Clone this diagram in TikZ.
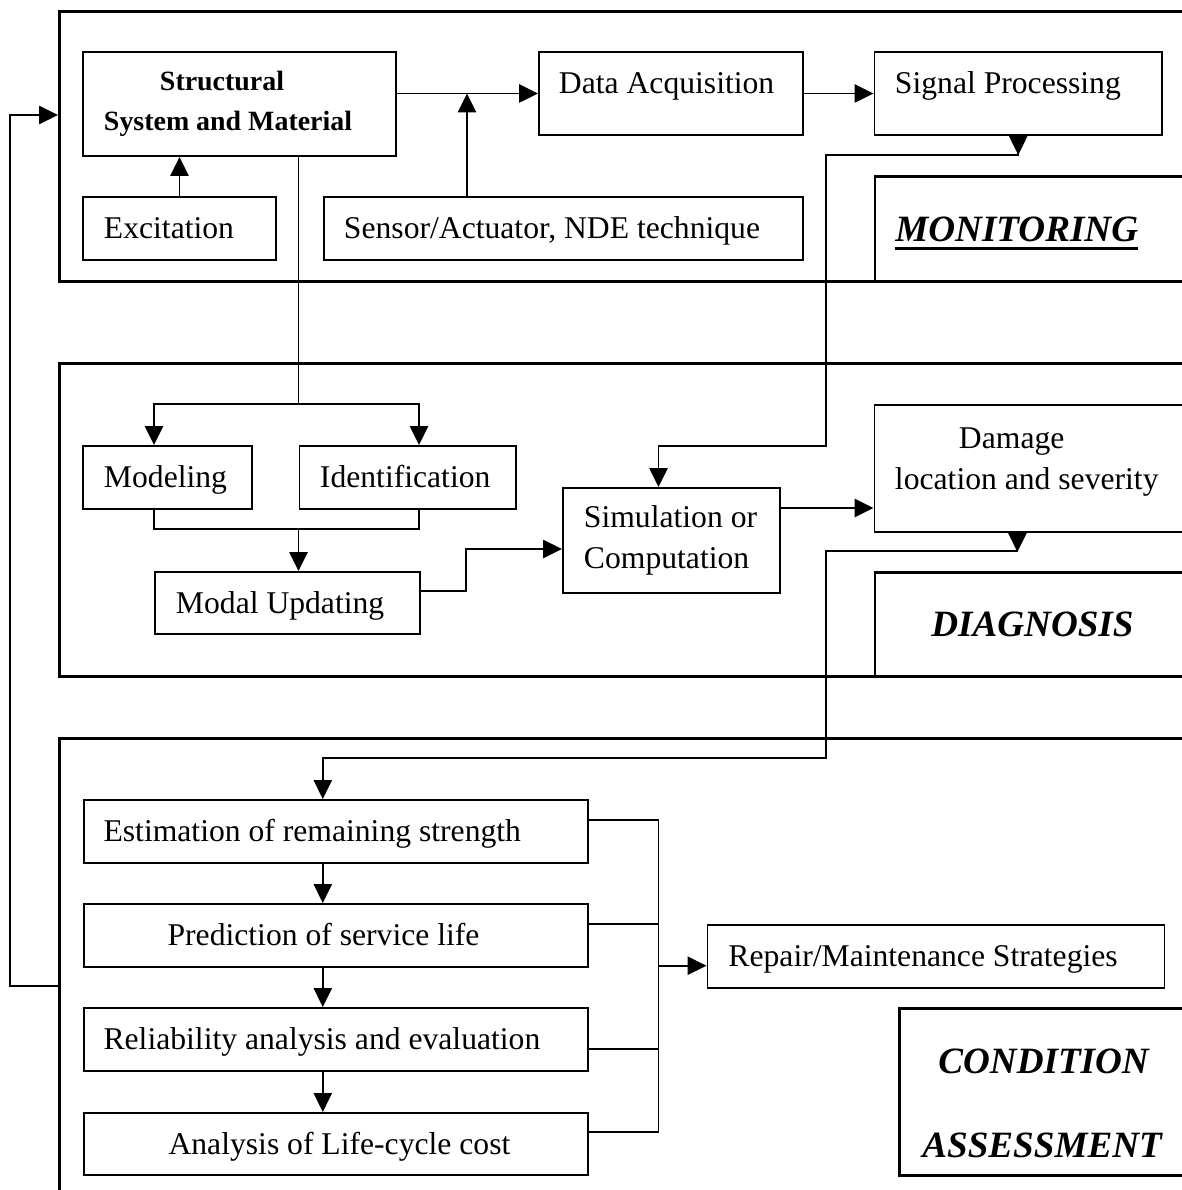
\documentclass[tikz,border=0pt]{standalone}
\usepackage{fontspec}
\setmainfont{Liberation Serif}
\usetikzlibrary{arrows.meta}
\newlength\pxl
\setlength\pxl{0.025cm}
\newcommand\myul[1]{\setbox0\hbox{#1}\rlap{\rule[-5.8pt]{\wd0}{2pt}}\box0}
\begin{document}
\begin{tikzpicture}[x=0.025cm,y=-0.025cm,
  geom/.code n args={5}{%
    \pgfmathsetlengthmacro\gw{(#3-#1)*\pxl}%
    \pgfmathsetlengthmacro\gh{(#4-#2)*\pxl}%
    \pgfmathsetlengthmacro\gp{#5*\pxl}%
    \pgfmathsetlengthmacro\gt{(#3-#1-2*#5)*\pxl}%
    \edef\tmpgeom{\noexpand\pgfkeysalso{at={(#1,#2)},minimum width=\gw,minimum height=\gh,inner xsep=\gp,text width=\gt}}%
    \tmpgeom},
  panel/.style={draw,line width=2pt,anchor=north west,inner sep=0pt},
  box/.style={draw,line width=1.4pt,anchor=north west,inner sep=0pt,align=flush left,font=\fontsize{22.5}{29.5}\selectfont},
  one/.style={text height=16pt,text depth=1.1pt},
  oneup/.style={text height=16pt,text depth=15.7pt},
  tag/.style={draw,line width=2pt,anchor=north west,inner sep=0pt,align=flush left,font=\fontsize{26.4}{59.75}\selectfont\bfseries\itshape},
  tagone/.style={text height=19pt,text depth=1.1pt},
  conn/.style={line width=1.2pt},
  arr/.style={conn,-{Triangle[length=13.5pt,width=13pt]}},
  biarr/.style={conn,{Triangle[reversed,length=13.5pt,width=13pt]}-{Triangle[length=13.5pt,width=13pt]}},
]
\useasboundingbox (0,0) rectangle (1182,1190);
\clip (0,0) rectangle (1182,1190);

% panels
\node[panel,geom={58}{10}{1215}{280}{0}] (pmon) {};
\node[panel,geom={58}{362}{1215}{675}{0}] (pdia) {};
\node[panel,geom={58}{737}{1215}{1215}{0}] (pca) {};

% monitoring
\node[box,geom={82}{51}{395}{155}{21},font=\fontsize{19.85}{28.7}\selectfont\bfseries] (ssm) {\hspace*{56\pxl}Structural\\System and Material};
\node[box,one,geom={82}{196}{275}{259}{21}] (exc) {Excitation};
\node[box,one,geom={323}{196}{802}{259}{20}] (sen) {\mbox{Sensor/Actuator, NDE technique}};
\node[box,oneup,geom={538}{51}{802}{134}{20}] (daq) {\mbox{Data Acquisition}};
\node[box,oneup,geom={873.5}{51}{1161}{134}{20.5}] (sig) {\mbox{Signal Processing}};
\node[tag,tagone,geom={873.5}{175}{1215}{280}{20.5}] (mon) {\myul{MONITORING}};

% diagnosis
\node[box,one,geom={82}{445}{251.4}{508}{21}] (mod) {\mbox{Modeling}};
\node[box,one,geom={298.5}{445}{514.7}{508}{20.5}] (idn) {\mbox{Identification}};
\node[box,one,geom={154}{571}{419}{633}{21}] (mup) {\mbox{Modal Updating}};
\node[box,geom={562}{487}{778.6}{592}{21}] (sim) {\mbox{Simulation or}\\\mbox{Computation}};
\node[box,geom={873.5}{404}{1215}{531}{20.5}] (dam) {\hspace*{64\pxl}Damage\\\mbox{location and severity}\rule[-14.3pt]{0pt}{0pt}};
\node[tag,tagone,geom={873.5}{571}{1215}{675}{56.5}] (dgn) {DIAGNOSIS};

% condition assessment
\node[box,one,geom={82.6}{799}{587}{862}{20}] (est) {\mbox{Estimation of remaining strength}};
\node[box,one,geom={82.6}{903}{587}{966}{20}] (pre) {\hspace*{64\pxl}\mbox{Prediction of service life}};
\node[box,one,geom={82.6}{1007}{587}{1070}{20}] (rel) {\mbox{Reliability analysis and evaluation}};
\node[box,one,geom={82.6}{1112}{587}{1174}{20}] (ana) {\hspace*{65\pxl}\mbox{Analysis of Life-cycle cost}};
\node[box,one,geom={706.5}{924}{1163.5}{987}{21}] (rep) {\mbox{Repair/Maintenance Strategies}};
\node[tag,geom={898}{1007}{1215}{1174}{23}] (cas) {\hspace*{16\pxl}CONDITION\rule{0pt}{34.4pt}\\ASSESSMENT};

% connectors: monitoring
\draw[arr] (exc.north) -- (exc.north |- ssm.south);
\draw[arr] (ssm.east |- daq.west) -- (daq.west);
\coordinate (j1) at (daq.west -| 467,0);
\draw[arr] (sen.north -| j1) -- (j1);
\draw[arr] (daq.east) -- (sig.west);
\draw[biarr] (sig.south) -- ++(0,19) -| (826,446) -| (sim.north -| 658.5,0);

% connectors: diagnosis
\coordinate (s1) at (298.5,404);
\draw[conn] (ssm.south -| s1) -- (s1);
\draw[arr] (s1) -| (mod.north -| 154,0);
\draw[arr] (s1) -| (idn.north -| 419,0);
\coordinate (m1) at (298.5,529);
\draw[conn] (mod.south -| 154,0) |- (m1) -| (idn.south -| 419,0);
\draw[arr] (m1) -- (mup.north -| m1);
\draw[arr] (mup.east |- 0,591) -- (466,591) |- (sim.west |- 0,549);
\draw[arr] (sim.east |- 0,508) -- (dam.west |- 0,508);
\draw[biarr] (dam.south -| 1017.4,0) -- ++(0,18) -| (826,757.7) -| (est.north -| 322.8,0);

% connectors: condition assessment
\draw[arr] (est.south -| 322.8,0) -- (pre.north -| 322.8,0);
\draw[arr] (pre.south -| 322.8,0) -- (rel.north -| 322.8,0);
\draw[arr] (rel.south -| 322.8,0) -- (ana.north -| 322.8,0);
\coordinate (b1) at (658.5,965.7);
\draw[conn] (est.east |- 0,820) -| (658.5,1131.7) -- (ana.east |- 0,1131.7);
\draw[conn] (pre.east |- 0,924) -- (658.5,924);
\draw[conn] (rel.east |- 0,1049) -- (658.5,1049);
\draw[arr] (b1) -- (rep.west |- b1);

% feedback
\draw[arr] (pca.west |- 0,986) -- (10,986) |- (pmon.west |- 0,115);
\end{tikzpicture}
\end{document}
